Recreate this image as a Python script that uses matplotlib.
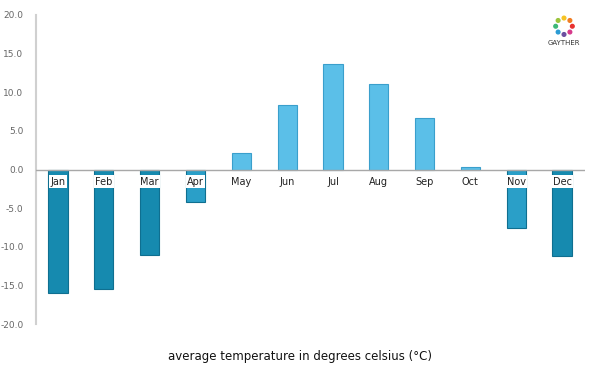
import numpy as np
import matplotlib.pyplot as plt

months = ['Jan', 'Feb', 'Mar', 'Apr', 'May', 'Jun', 'Jul', 'Aug', 'Sep', 'Oct', 'Nov', 'Dec']
temps = [-16.0, -15.5, -11.1, -4.2, 2.1, 8.3, 13.7, 11.1, 6.7, 0.3, -7.6, -11.2]
yticks = [-20, -15, -10, -5, 0, 5, 10, 15, 20]


def bar_color(v):
    if v >= 0:
        return '#5bbfe8'
    if v > -9:
        return '#2a9fc8'
    return '#168aaf'


fig = plt.figure(figsize=(6, 3.75), dpi=100)
ax = fig.add_axes([0.06, 0.136, 0.915, 0.824])

x = np.arange(len(months))
cols = [bar_color(v) for v in temps]
edges = ['#3a9fcc' if v >= 0 else '#0f6f90' for v in temps]
ax.bar(x, temps, width=0.42, color=cols, edgecolor=edges, linewidth=0.8, zorder=2)

ax.axhline(0, color='#a8a8a8', linewidth=1, zorder=3)

for i, m in enumerate(months):
    if temps[i] < 0:
        ax.text(i, -1.6, m, ha='center', va='center', fontsize=7, color='#222222',
                bbox=dict(boxstyle='square,pad=0.15', facecolor='white', edgecolor='none'), zorder=4)
    else:
        ax.text(i, -1.6, m, ha='center', va='center', fontsize=7, color='#222222', zorder=4)

ax.set_xlim(-0.48, 11.5)
ax.set_ylim(-20, 20)
ax.set_yticks(yticks)
ax.set_yticklabels(['%.1f' % t for t in yticks], fontsize=6.5, color='#666666')
ax.tick_params(axis='y', length=0, pad=9)
ax.set_xticks([])
for s in ['top', 'right', 'bottom']:
    ax.spines[s].set_visible(False)
ax.spines['left'].set_color('#d0d0d0')
ax.spines['left'].set_linewidth(1.5)

# logo
ang = np.linspace(0, 2 * np.pi, 8, endpoint=False)
logo_cols = ['#e8312f', '#f07c22', '#f6c324', '#9bc43c', '#3cb878', '#2b9bd4', '#6b4fa0', '#d63a8c']
lax = fig.add_axes([0.915, 0.895, 0.05, 0.07])
lax.scatter(np.cos(ang), np.sin(ang), s=7, c=logo_cols)
lax.set_xlim(-1.8, 1.8)
lax.set_ylim(-1.6, 1.6)
lax.axis('off')
fig.text(0.94, 0.885, 'GAYTHER', ha='center', va='center', fontsize=5, color='#333333')

fig.text(0.5, 0.05, 'average temperature in degrees celsius (°C)', ha='center', va='center',
         fontsize=8.5, color='#111111')

fig.savefig('out.png', dpi=100)
